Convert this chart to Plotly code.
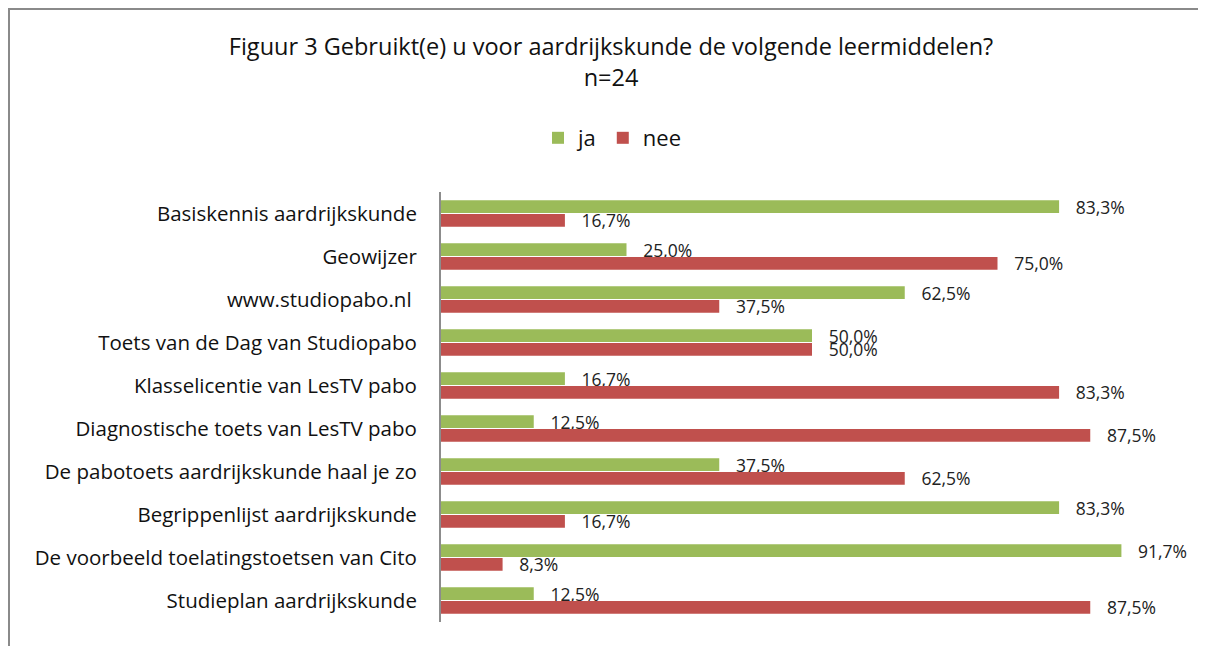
import plotly.graph_objects as go

categories = [
    "Basiskennis aardrijkskunde",
    "Geowijzer",
    "www.studiopabo.nl ",
    "Toets van de Dag van Studiopabo",
    "Klasselicentie van LesTV pabo",
    "Diagnostische toets van LesTV pabo",
    "De pabotoets aardrijkskunde haal je zo",
    "Begrippenlijst aardrijkskunde",
    "De voorbeeld toelatingstoetsen van Cito",
    "Studieplan aardrijkskunde",
]
ja = [83.3, 25.0, 62.5, 50.0, 16.7, 12.5, 37.5, 83.3, 91.7, 12.5]
nee = [16.7, 75.0, 37.5, 50.0, 83.3, 87.5, 62.5, 16.7, 8.3, 87.5]

def fmt(v):
    return "\u00a0\u00a0\u00a0" + f"{v:.1f}".replace(".", ",") + "%"

FONT = "'Open Sans', sans-serif"

fig = go.Figure()
fig.add_trace(go.Bar(
    name="ja", y=categories, x=ja, orientation="h",
    marker=dict(color="#9BBB59", line=dict(width=0)),
    text=[fmt(v) for v in ja], textposition="outside", cliponaxis=False,
    constraintext="none",
    textfont=dict(size=17.5, color="#222", family=FONT),
))
fig.add_trace(go.Bar(
    name="nee", y=categories, x=nee, orientation="h",
    marker=dict(color="#C0504D", line=dict(width=0)),
    text=[fmt(v) for v in nee], textposition="outside", cliponaxis=False,
    constraintext="none",
    textfont=dict(size=17.5, color="#222", family=FONT),
))

# page has an 8px body margin, so the figure is sized/offset accordingly
W, H = 1198, 638
L, T = 433, 184
pw, ph = 742, 430
R, B = W - L - pw, H - T - ph

fig.update_layout(
    width=W, height=H,
    margin=dict(l=L, r=R, t=T, b=B, autoexpand=False),
    paper_bgcolor="white", plot_bgcolor="white",
    font=dict(family=FONT, color="#111"),
    barmode="group", bargap=0.36, bargroupgap=0.08,
    title=dict(
        text="Figuur 3 Gebruikt(e) u voor aardrijkskunde de volgende leermiddelen?<br>n=24",
        x=603 / W, xanchor="center", y=1 - 47 / H, yanchor="top",
        font=dict(size=23.5, family=FONT, color="#111"),
    ),
    legend=dict(
        orientation="h", x=604 / W, xref="container", xanchor="center",
        y=1 - 130 / H, yref="container", yanchor="middle",
        font=dict(size=22, family=FONT, color="#111"),
        traceorder="normal", itemwidth=30,
    ),
    showlegend=True,
)

fig.update_xaxes(range=[0, 100], showgrid=False, showticklabels=False,
                 zeroline=False, showline=False, ticks="", automargin=False)
fig.update_yaxes(autorange="reversed", showgrid=False, ticks="",
                 showline=True, linecolor="#8c8c8c", linewidth=2,
                 ticklabelstandoff=18, automargin=False,
                 tickfont=dict(size=20.5, family=FONT, color="#111"))

# outer chart frame (top-left corner at figure pixel (0.5, 1))
fig.add_shape(type="rect", xref="paper", yref="paper",
              x0=(1 - L) / pw, x1=(W + 20 - L) / pw,
              y0=-(B + 20) / ph, y1=(T + ph - 1) / ph,
              line=dict(color="#8a8a8a", width=2), fillcolor="rgba(0,0,0,0)",
              layer="below")

fig.write_html("out.html")
